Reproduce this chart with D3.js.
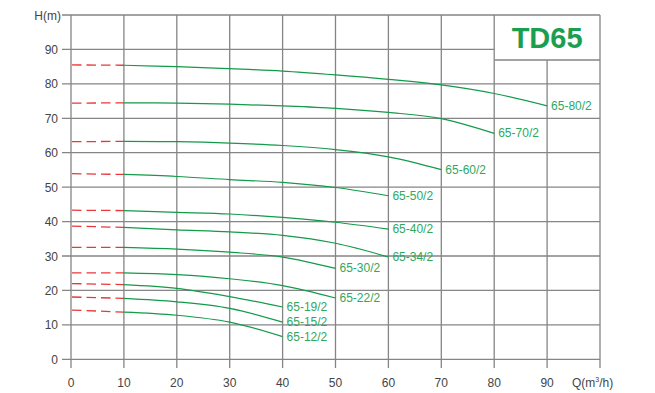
<!DOCTYPE html>
<html><head><meta charset="utf-8">
<script src="https://cdn.jsdelivr.net/npm/d3@7"></script>
<style>
html,body{margin:0;padding:0;background:#fff;}
svg{display:block;font-family:"Liberation Sans",Arial,sans-serif;}
</style></head>
<body><svg id="c" width="655" height="393"></svg>
<script>
// ---- data ----
const title = "TD65";
const xTicks = [0,10,20,30,40,50,60,70,80,90];
const yTicks = [0,10,20,30,40,50,60,70,80,90];
const models = ["65-80/2","65-70/2","65-60/2","65-50/2","65-40/2","65-34/2","65-30/2","65-22/2","65-19/2","65-15/2","65-12/2"];
const flow = [10,20,30,40,50,60,70,80,90];
const shutoffHead = [85.5,74.4,63.2,53.9,43.3,38.7,32.5,25.1,22.0,18.1,14.3];
const head_80 = [85.4,85.0,84.4,83.7,82.6,81.3,79.7,77.2,73.6];
const head_70 = [74.5,74.4,74.1,73.6,72.9,71.7,69.9,65.6];
const head_60 = [63.3,63.2,62.8,62.1,60.9,58.8,55.1];
const head_50 = [53.7,53.1,52.2,51.4,49.9,47.5];
const head_40 = [43.2,42.7,42.2,41.2,39.8,37.8];
const head_34 = [38.3,37.6,37.0,36.0,33.7,29.7];
const head_30 = [32.5,32.0,31.1,29.7,26.4];
const head_22 = [25.1,24.6,23.4,21.4,17.8];
const head_19 = [21.7,20.6,18.2,15.2];
const head_15 = [17.7,16.7,14.8,10.8];
const head_12 = [13.7,12.8,10.8,6.6];
const heads = [head_80,head_70,head_60,head_50,head_40,head_34,head_30,head_22,head_19,head_15,head_12];

// ---- drawing ----
const svg = d3.select("#c");
const x = d3.scaleLinear().domain([0,100]).range([71,600]);
const y = d3.scaleLinear().domain([0,100]).range([359.3,15]);
const gridCol = "#858585", gw = 1.3;
const g = svg.append("g");

// horizontal grid lines (with left tick extension)
yTicks.concat([100]).forEach(v=>{
  const x2 = (v===90) ? x(80) : x(100);
  g.append("line").attr("x1",62).attr("x2",x2).attr("y1",y(v)).attr("y2",y(v))
   .attr("stroke",gridCol).attr("stroke-width",gw);
});
// vertical grid lines (with bottom tick extension)
xTicks.concat([100]).forEach(v=>{
  const y1 = (v===90) ? y(100)+45 : y(100);
  g.append("line").attr("x1",x(v)).attr("x2",x(v)).attr("y1",y1).attr("y2",368)
   .attr("stroke",gridCol).attr("stroke-width",gw);
});
// title box bottom edge
g.append("line").attr("x1",x(80)).attr("x2",x(100)).attr("y1",y(100)+45).attr("y2",y(100)+45)
 .attr("stroke",gridCol).attr("stroke-width",gw);

svg.append("text").attr("x",(x(80)+x(100))/2).attr("y",48).attr("text-anchor","middle")
  .attr("font-size",29).attr("font-weight","bold").attr("fill","#1a9e50").text(title);

// tick labels
svg.selectAll(".yt").data(yTicks).join("text").attr("x",58).attr("y",d=>y(d)+4.5)
  .attr("text-anchor","end").attr("font-size",12).attr("fill","#444").text(d=>d);
svg.selectAll(".xt").data(xTicks).join("text").attr("x",d=>x(d)).attr("y",387)
  .attr("text-anchor","middle").attr("font-size",12).attr("fill","#444").text(d=>d);
svg.append("text").attr("x",61).attr("y",20).attr("text-anchor","end").attr("font-size",12)
  .attr("fill","#444").text("H(m)");
const ql = svg.append("text").attr("x",572).attr("y",387).attr("font-size",12).attr("fill","#444");
ql.append("tspan").text("Q(m");
ql.append("tspan").attr("font-size",7).attr("dy",-5).text("3");
ql.append("tspan").attr("dy",5).text("/h)");

// curves
const line = d3.line().x(d=>x(d[0])).y(d=>y(d[1])).curve(d3.curveCatmullRom.alpha(0.5));
models.forEach((m,i)=>{
  const pts = heads[i].map((h,j)=>[flow[j],h]);
  // dashed shutoff segment
  svg.append("line").attr("x1",x(0)+1).attr("x2",x(flow[0])).attr("y1",y(shutoffHead[i])).attr("y2",y(heads[i][0]))
    .attr("stroke","#e8383a").attr("stroke-width",1.3).attr("stroke-dasharray","9.5,5");
  svg.append("path").attr("d",line(pts)).attr("fill","none").attr("stroke","#139a4a").attr("stroke-width",1.2);
  const last = pts[pts.length-1];
  svg.append("text").attr("x",x(last[0])+4).attr("y",y(last[1])+4)
    .attr("font-size",12).attr("fill","#2ea85e").text(m);
});
</script></body></html>
